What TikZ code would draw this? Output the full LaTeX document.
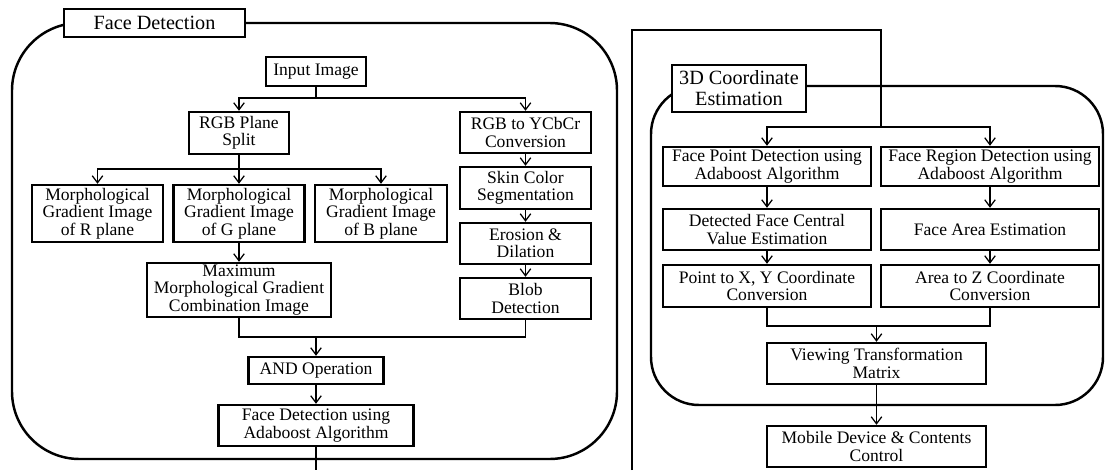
\documentclass[tikz,border=0pt]{standalone}
\usepackage{fontspec}
\setmainfont{Liberation Serif}
\usetikzlibrary{arrows.meta,positioning}
\tikzset{
    block/.style={draw, line width=1.4pt, fill=white, align=center, inner sep=1pt, font=\fontsize{10}{9.9}\selectfont},
    head/.style={block, font=\fontsize{11.5}{12}\selectfont},
    panel/.style={draw, line width=1.4pt, rounded corners=#1},
    link/.style={draw, line width=0.7pt},
    arrow/.style={link, -{Straight Barb[length=4pt,width=6pt]}}
}
\begin{document}
\begin{tikzpicture}[x=0.02cm, y=-0.02cm]
    \useasboundingbox (0,0) rectangle (1105,470);
    % Frames
    \draw[panel=1.35cm] (12,23) rectangle (617,459);
    \draw[panel=0.96cm] (651,86) rectangle (1103,405);

    % Nodes, face detection
    \node[head, minimum width=3.62cm, minimum height=0.56cm] (fdtitle) at (154.5,23) {Face Detection};
    \node[block, minimum width=2cm, minimum height=0.58cm] (input) at (316,71.5) {Input Image};
    \node[block, minimum width=2cm, minimum height=0.84cm] (rgb) at (239,133) {RGB Plane\\Split};
    \node[block, minimum width=2.62cm, minimum height=0.82cm] (ycbcr) at (525.5,132.5) {RGB to YCbCr\\Conversion};
    \node[block, minimum width=2.62cm, minimum height=0.84cm] (skin) at (525.5,188) {Skin Color\\Segmentation};
    \node[block, minimum width=2.62cm, minimum height=0.82cm] (erosion) at (525.5,243.5) {Erosion \&\\Dilation};
    \node[block, minimum width=2.62cm, minimum height=0.82cm] (blob) at (525.5,298.5) {Blob\\Detection};
    \node[block, minimum width=2.62cm, minimum height=1.14cm] (morphr) at (97.5,213.5) {Morphological\\Gradient Image\\of R plane};
    \node[block, minimum width=2.62cm, minimum height=1.14cm] (morphg) at (239,213.5) {Morphological\\Gradient Image\\of G plane};
    \node[block, minimum width=2.64cm, minimum height=1.14cm] (morphb) at (381,213.5) {Morphological\\Gradient Image\\of B plane};
    \node[block, minimum width=3.68cm, minimum height=1.08cm] (maxgrad) at (239,290) {Maximum\\Morphological Gradient\\Combination Image};
    \node[block, minimum width=2.7cm, minimum height=0.54cm] (andop) at (316,370.5) {AND Operation};
    \node[block, minimum width=3.9cm, minimum height=0.82cm] (fdada) at (316,425.5) {Face Detection using\\Adaboost Algorithm};

    % Nodes, 3D coordinate estimation
    \node[head, minimum width=2.68cm, minimum height=0.94cm] (cetitle) at (739,88.5) {3D Coordinate\\Estimation};
    \node[block, minimum width=4.16cm, minimum height=0.78cm] (fpoint) at (767,166.5) {Face Point Detection using\\Adaboost Algorithm};
    \node[block, minimum width=4.36cm, minimum height=0.78cm] (fregion) at (990,166.5) {Face Region Detection using\\Adaboost Algorithm};
    \node[block, minimum width=4.16cm, minimum height=0.82cm] (central) at (767,229.5) {Detected Face Central\\Value Estimation};
    \node[block, minimum width=4.36cm, minimum height=0.82cm] (area) at (990,229.5) {Face Area Estimation};
    \node[block, minimum width=4.16cm, minimum height=0.84cm] (pointxy) at (767,286) {Point to X, Y Coordinate\\Conversion};
    \node[block, minimum width=4.36cm, minimum height=0.84cm] (areaz) at (990,286) {Area to Z Coordinate\\Conversion};
    \node[block, minimum width=4.38cm, minimum height=0.82cm] (viewing) at (876.5,363.5) {Viewing Transformation\\Matrix};
    \node[block, minimum width=4.38cm, minimum height=0.82cm] (mobile) at (876.5,446.5) {Mobile Device \& Contents\\Control};

    % Junctions
    \coordinate (split1) at (316,98);
    \coordinate (split2) at (239,169);
    \coordinate (join1) at (316,337);
    \coordinate (fdout) at (316,470);
    \coordinate (cein) at (632,470);
    \coordinate (split3) at (881,127);
    \coordinate (join2) at (876.5,326);

    % edges
    \draw[link] (input) -- (split1);
    \draw[arrow] (split1) -| (rgb);
    \draw[arrow] (split1) -| (ycbcr);
    \draw[link] (rgb) -- (split2);
    \draw[arrow] (split2) -| (morphr);
    \draw[arrow] (split2) -- (morphg);
    \draw[arrow] (split2) -| (morphb);
    \draw[arrow] (morphg) -- (maxgrad);
    \draw[arrow] (ycbcr) -- (skin);
    \draw[arrow] (skin) -- (erosion);
    \draw[arrow] (erosion) -- (blob);
    \draw[link] (maxgrad) |- (join1);
    \draw[link] (blob) |- (join1);
    \draw[arrow] (join1) -- (andop);
    \draw[arrow] (andop) -- (fdada);
    \draw[link] (fdada) -- (fdout);

    \draw[link] (cein) |- (881,30) -- (split3);
    \draw[arrow] (split3) -| (fpoint);
    \draw[arrow] (split3) -| (fregion);
    \draw[arrow] (fpoint) -- (central);
    \draw[arrow] (central) -- (pointxy);
    \draw[arrow] (fregion) -- (area);
    \draw[arrow] (area) -- (areaz);
    \draw[link] (pointxy) |- (join2);
    \draw[link] (areaz) |- (join2);
    \draw[arrow] (join2) -- (viewing);
    \draw[arrow] (viewing) -- (mobile);
\end{tikzpicture}
\end{document}
